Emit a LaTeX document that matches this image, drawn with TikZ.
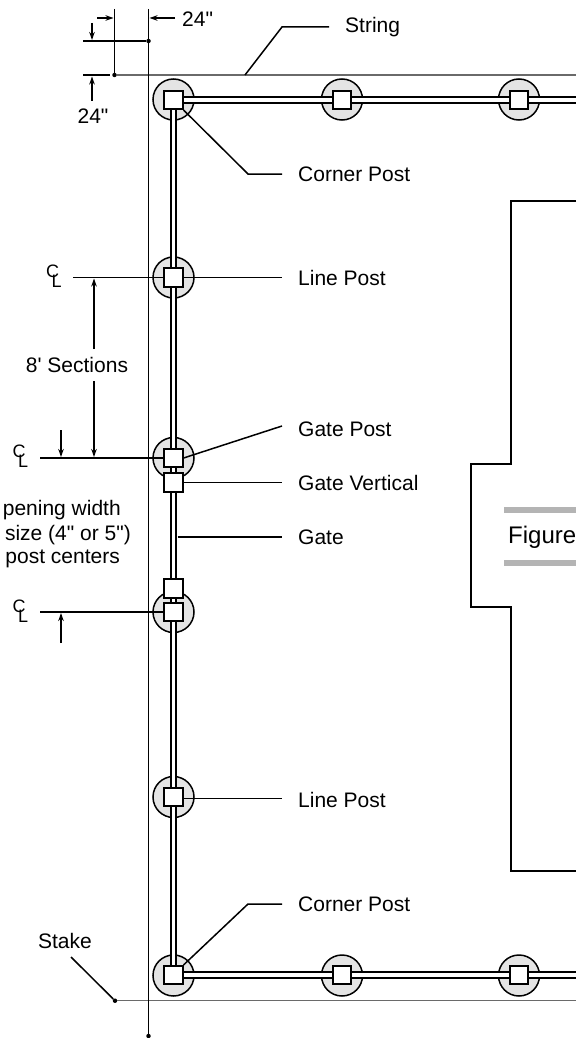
\documentclass[tikz,border=0pt]{standalone}
\usepackage{fontspec}
\setmainfont{Liberation Sans}[Ligatures=TeXOff]
\usetikzlibrary{arrows.meta}
\definecolor{postgray}{HTML}{E4E4E4}
\definecolor{stringgray}{HTML}{6A6A6A}
\definecolor{bargray}{HTML}{B4B4B4}
\newcommand{\clsym}{\makebox[0pt][l]{C}\hspace{5.5pt}\raisebox{-10pt}{L}}
\tikzset{
  every node/.style={font=\fontsize{21}{24}\selectfont,text=black},
  hole/.style={circle,draw=black,fill=postgray,line width=1.5pt,minimum size=41pt,inner sep=0pt},
  sq/.style={rectangle,draw=black,fill=white,line width=1.7pt,minimum size=18.5pt,inner sep=0pt},
  railline/.style={line width=2.3pt,double=white,double distance=3.2pt,draw=black},
  lead/.style={line width=1.5pt,draw=black},
  thinline/.style={line width=1.3pt,draw=black},
  dim/.style={line width=1.4pt,draw=black,-{Stealth[length=8pt,width=5.5pt]}},
  stakedot/.style={circle,fill=black,minimum size=4.5pt,inner sep=0pt},
  lab/.style={anchor=west,inner ysep=0pt,inner xsep=16pt},
  plain/.style={inner sep=0pt},
  cl/.style={inner sep=0pt,anchor=base west,font=\fontsize{18}{20}\selectfont},
}
\begin{document}
\begin{tikzpicture}[x=1pt,y=-1pt]
\useasboundingbox (0,0) rectangle (576,1038);
% string lines
\node[stakedot] (d1) at (148.5,41) {};
\node[stakedot] (d2) at (114.5,75) {};
\node[stakedot] (d3) at (115,1000.7) {};
\node[stakedot] (d4) at (148.5,1036) {};
\coordinate (v1top) at (148.5,9);
\coordinate (v2top) at (114.5,9);
\coordinate (hl1) at (83,41);
\coordinate (hl2) at (83,75);
\coordinate (hl2e) at (110,75);
\coordinate (sr1) at (576,75);
\coordinate (sr2) at (576,1000.7);
\draw[line width=1.4pt,draw=stringgray] (d2) -- (sr1);
\draw[line width=1.3pt,draw=stringgray] (d3) -- (sr2);
\draw[thinline] (v1top) -- (d4);
\draw[thinline] (v2top) -- (d2);
\draw[thinline] (hl1) -- (d1);
\draw[thinline] (hl2) -- (hl2e);
% post holes
\foreach \n/\x/\y in {ca/173.5/99.5,t1/342/99.5,t2/519/99.5,l1/173.5/277.5,g1/173.5/458,g2/173.5/612,l2/173.5/797,cb/173.5/975.5,b1/342/975.5,b2/519/975.5}
  \node[hole] (h\n) at (\x,\y) {};
% centre lines, drawn under the posts
\coordinate (cl1) at (73,277.5);
\coordinate (cl2) at (40,458);
\coordinate (cl3) at (40,612);
\draw[lead] (cl1) -- (hl1.center);
\draw[lead] (cl2) -- (hg1.center);
\draw[lead] (cl3) -- (hg2.center);
% rails
\coordinate (rt) at (576,100);
\coordinate (rb) at (576,975);
\draw[railline] (hca.center) -- (hcb.center);
\draw[railline] (173.5,100) -- (rt);
\draw[railline] (173.5,975) -- (rb);
% squares
\foreach \n/\x/\y in {ca/173.5/100,t1/342/100,t2/519/100,l1/173.5/277.5,g1/173.5/458,g2/173.5/612,l2/173.5/797,cb/173.5/975,b1/342/975,b2/519/975,gva/173.5/482.5,gvb/173.5/588.5}
  \node[sq] (s\n) at (\x,\y) {};
% labels
\node[lab] (lstring) at (329,27) {String};
\node[lab] (lcorner1) at (282,174) {Corner Post};
\node[lab] (lline1) at (282,277.5) {Line Post};
\node[lab] (lgp) at (282,429) {Gate Post};
\node[lab] (lgv) at (282,482.5) {Gate Vertical};
\node[lab] (lgate) at (282,537) {Gate};
\node[lab] (lline2) at (282,799.5) {Line Post};
\node[lab] (lcorner2) at (282,904) {Corner Post};
\node[plain] (lstake) at (65,941) {Stake};
\coordinate (skel1) at (282,27);
\coordinate (skel0) at (245,75);
\coordinate (k1) at (248,174);
\coordinate (k2) at (248,904);
\coordinate (rg) at (177.5,537);
\coordinate (stk) at (71,957);
\coordinate (ll2a) at ([yshift=-1.5pt]sl2.east);
\draw[lead] (skel0) -- (skel1) -- (lstring.west);
\draw[lead] (sca.south east) -- (k1) -- (lcorner1.west);
\draw[lead] (sl1.east) -- (lline1.west);
\draw[lead] (sg1.east) -- ([yshift=3pt]lgp.west);
\draw[lead] (sgva.east) -- (lgv.west);
\draw[lead] (rg) -- (lgate.west);
\draw[lead] (ll2a) -- (ll2a -| lline2.west);
\draw[lead] (scb.north east) -- (k2) -- (lcorner2.west);
\draw[lead] (stk) -- (d3);
% dimensions
\coordinate (a1s) at (97,18); \coordinate (a1e) at (113.5,18);
\coordinate (a2s) at (175,18); \coordinate (a2e) at (149.5,18);
\coordinate (a3s) at (92,23); \coordinate (a3e) at (92,40);
\coordinate (a4s) at (92,101); \coordinate (a4e) at (92,76.5);
\draw[dim] (a1s) -- (a1e);
\draw[dim] (a2s) -- (a2e);
\draw[dim] (a3s) -- (a3e);
\draw[dim] (a4s) -- (a4e);
\node[plain,anchor=west] (t24a) at (182,19) {24"};
\node[plain] (t24b) at (93,116) {24"};
\coordinate (s1) at (94,349); \coordinate (s1e) at (94,278.5);
\coordinate (s2) at (94,381); \coordinate (s2e) at (94,457);
\coordinate (g1s) at (61,430); \coordinate (g1e) at (61,457);
\coordinate (g2s) at (61,643); \coordinate (g2e) at (61,613);
\draw[dim] (s1) -- (s1e);
\draw[dim] (s2) -- (s2e);
\draw[dim] (g1s) -- (g1e);
\draw[dim] (g2s) -- (g2e);
\node[plain] (t8) at (77,365) {8' Sections};
\node[plain,anchor=east] (op1) at (121,510) {pening width};
\node[plain,anchor=east] (op2) at (131,535) {size (4" or 5")};
\node[plain,anchor=east] (op3) at (120,559) {post centers};
% CL symbols
\node[cl] (cla) at (46,277) {\clsym};
\node[cl] (clb) at (12.5,457) {\clsym};
\node[cl] (clc) at (12.5,612) {\clsym};
% building
\coordinate (b0) at (576,201);
\coordinate (b1) at (511,201);
\coordinate (b2) at (511,464);
\coordinate (b3) at (471,464);
\coordinate (b4) at (471,607);
\coordinate (b5) at (511,607);
\coordinate (b6) at (511,871);
\coordinate (b7) at (576,871);
\draw[line width=1.5pt,draw=black] (b0) -- (b1) -- (b2) -- (b3) -- (b4) -- (b5) -- (b6) -- (b7);
% figure tag
\fill[bargray] (504,507) rectangle (576,512.5);
\fill[bargray] (504,560) rectangle (576,565.5);
\node[plain,anchor=base west,font=\fontsize{24}{28}\selectfont] (fig) at (508,543) {Figure};
\end{tikzpicture}
\end{document}
